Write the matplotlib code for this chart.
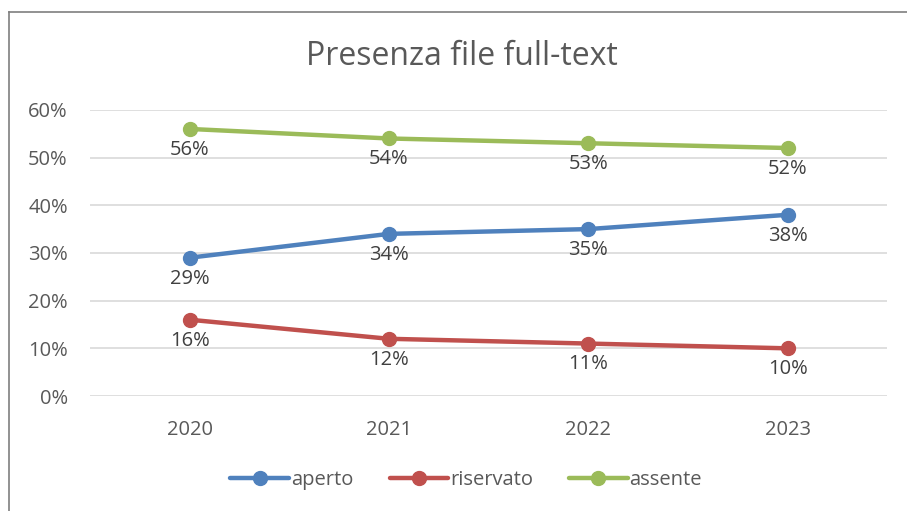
import matplotlib.pyplot as plt
from matplotlib.lines import Line2D
from matplotlib.ticker import FuncFormatter

# data
years = ['2020', '2021', '2022', '2023']
aperto = [29, 34, 35, 38]
riservato = [16, 12, 11, 10]
assente = [56, 54, 53, 52]

series = [
    ('aperto', aperto, '#4F81BD'),
    ('riservato', riservato, '#C0504D'),
    ('assente', assente, '#9BBB59'),
]

plt.rcParams['font.family'] = ['Open Sans', 'DejaVu Sans']

fig = plt.figure(figsize=(9.07, 5.11), dpi=100)
ax = fig.add_axes([0.0992, 0.225, 0.879, 0.56])

x = list(range(len(years)))
for name, vals, col in series:
    ax.plot(x, vals, color=col, lw=3.2, marker='o', ms=10,
            solid_capstyle='round', label=name, zorder=3)
    for xi, v in zip(x, vals):
        ax.annotate(f'{v}%', (xi, v), xytext=(0, -15), textcoords='offset points',
                    ha='center', va='center', fontsize=14.5, color='#404040')

ax.set_xlim(-0.5, 3.5)
ax.set_ylim(0, 60)
ax.set_yticks(range(0, 61, 10))
ax.yaxis.set_major_formatter(FuncFormatter(lambda v, p: f'{v:.0f}%'))
ax.set_xticks(x)
ax.set_xticklabels(years)
ax.grid(axis='y', color='#D9D9D9', lw=1.2)
ax.set_axisbelow(True)
for s in ax.spines.values():
    s.set_visible(False)
ax.tick_params(length=0, labelsize=14.5, labelcolor='#595959')
ax.tick_params(axis='y', pad=16)
ax.tick_params(axis='x', pad=17)

fig.text(0.509, 0.89, 'Presenza file full-text', ha='center', va='center',
         fontsize=23, color='#595959')

ax.legend(loc='center', bbox_to_anchor=(0.472, -0.295), ncol=3, frameon=False,
          fontsize=14.5, labelcolor='#595959', handlelength=2.9,
          handletextpad=0.1, columnspacing=1.8)

# chart frame (top and left edges visible)
fig.add_artist(Line2D([0.0099, 1.0], [1 - 12 / 511, 1 - 12 / 511],
                      transform=fig.transFigure, color='#7F7F7F', lw=1.2))
fig.add_artist(Line2D([0.0099, 0.0099], [0, 1 - 12 / 511],
                      transform=fig.transFigure, color='#7F7F7F', lw=1.2))

fig.savefig('out.png', dpi=100)
